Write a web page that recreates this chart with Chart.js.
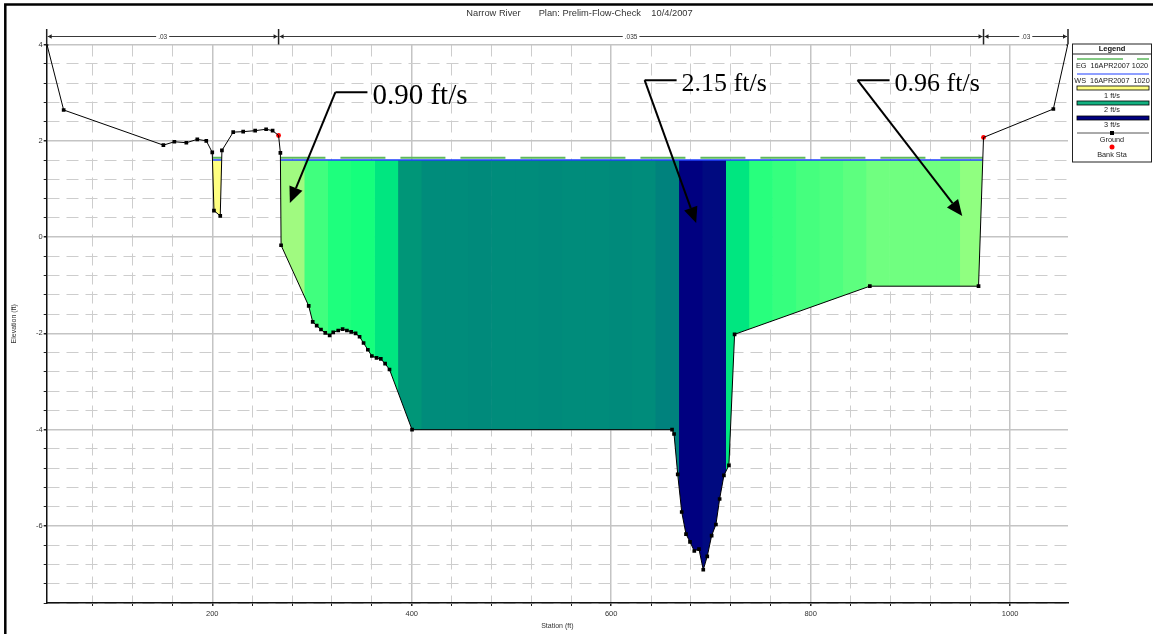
<!DOCTYPE html>
<html>
<head>
<meta charset="utf-8">
<title>Narrow River</title>
<script src="https://cdn.jsdelivr.net/npm/chart.js@4.4.1/dist/chart.umd.min.js"></script>
<style>
  html, body { margin: 0; padding: 0; background: #fff; }
</style>
</head>
<body>
<canvas id="xs" width="1153" height="634"></canvas>
<script>
// Ground profile, station (ft) / elevation (ft)
const groundStation = [34, 51, 151, 162, 174, 185, 194, 200, 201.7, 208, 209.7, 221, 231, 243, 254, 260.5, 266.5, 268.3, 269, 296.7,
  300.7, 304.7, 309, 313.3, 317.7, 321.3, 326.3, 330.7, 335, 339.3, 343.7, 347.7, 351.7, 356, 360, 364.7, 369, 373.3, 377.7, 400.3,
  661, 663, 666.7, 670.7, 675, 679, 683.3, 688, 692.3, 696.3, 700.7, 705, 708.7, 713, 718, 723.7, 859.3, 968.3, 973.3, 1043.3, 1058];
const groundElev = [4.02, 2.64, 1.91, 1.98, 1.96, 2.03, 2.00, 1.76, 0.55, 0.44, 1.80, 2.18, 2.19, 2.21, 2.24, 2.21, 2.11, 1.75, -0.17, -1.43,
  -1.76, -1.84, -1.92, -1.99, -2.04, -1.98, -1.94, -1.91, -1.94, -1.97, -2.00, -2.07, -2.20, -2.34, -2.47, -2.51, -2.53, -2.63, -2.75, -4.00,
  -4.00, -4.09, -4.93, -5.71, -6.17, -6.33, -6.52, -6.48, -6.91, -6.63, -6.20, -5.97, -5.44, -4.95, -4.74, -2.02, -1.02, -1.02, 2.07, 2.66, 4.02];

const bankStation = [266.5, 973.3];
const bankElev = [2.11, 2.07];

// Water surface / energy grade, and where the water meets the ground
const wsElev = 1.60;
const egElev = 1.65;
const pocketEdges = [200.22, 209.45];
const channelEdges = [268.35, 972.5];

// Velocity distribution: overbank pocket plus 30 channel slices
const pocketVelocity = 0.35;
const sliceEdges = [268.35, 291.9, 315.3, 338.8, 362.3, 385.8, 409.2, 432.7, 456.2, 479.6, 503.1, 526.6, 550.0, 573.5, 597.0, 620.5,
  643.9, 667.4, 690.9, 714.3, 737.8, 761.3, 784.7, 808.2, 831.7, 855.2, 878.6, 902.1, 925.6, 949.0, 972.5];
const sliceVelocity = [0.90, 1.10, 1.17, 1.19, 1.35, 1.60, 1.65, 1.65, 1.66, 1.65, 1.65, 1.66, 1.65, 1.65, 1.66, 1.65,
  1.70, 2.15, 2.10, 1.35, 1.15, 1.12, 1.09, 1.07, 1.04, 1.00, 1.00, 1.00, 1.00, 0.96];

// Manning's n along the section
const nStations = [34, 266.5, 973.3, 1058];
const nValues = ['.03', '.035', '.03'];

// Labelled axis values
const stationTicks = [200, 400, 600, 800, 1000];
const elevTicks = [-6, -4, -2, 0, 2, 4];

// Velocity callouts: slice index, elbow and arrow tip
const calloutSlice = [0, 17, 29];
const calloutElbowStation = [323.5, 633.5, 847];
const calloutElbowElev = [3.01, 3.26, 3.26];
const calloutTipStation = [277.8, 685.2, 952];
const calloutTipElev = [0.71, 0.29, 0.44];
const calloutFontPx = [29, 26, 26];

// colour ramp for the velocity slices
const rampSpeed = [0.35, 0.90, 0.96, 1.00, 1.20, 1.35, 1.60, 1.70, 2.10, 2.15];
const rampRGB = [[255, 255, 128], [160, 250, 128], [144, 255, 128], [112, 255, 128], [16, 255, 124],
  [0, 230, 128], [0, 150, 120], [0, 130, 125], [0, 10, 128], [0, 0, 128]];

function speedColor(v) {
  let i = 0;
  while (i < rampSpeed.length - 2 && v > rampSpeed[i + 1]) i++;
  const t = Math.min(1, Math.max(0, (v - rampSpeed[i]) / (rampSpeed[i + 1] - rampSpeed[i])));
  const c = rampRGB[i].map((a, k) => Math.round(a + (rampRGB[i + 1][k] - a) * t));
  return `rgb(${c.join(',')})`;
}

const SANS = "'Liberation Sans', Arial, sans-serif";
const SERIF = "'Liberation Serif', 'Times New Roman', serif";
Chart.defaults.font.family = SANS;

const pt = (x, y) => ({x, y});
const onStep = (v, step) => Math.abs(v / step - Math.round(v / step)) < 1e-6;
const inList = (v, list) => list.some(t => Math.abs(t - v) < 1e-6);

const groundData = groundStation.map((s, i) => pt(s, groundElev[i]));
const bankIdx = new Set(bankStation.map(s => groundStation.indexOf(s)));

function levelLine(elev) {
  return [pt(pocketEdges[0], elev), pt(pocketEdges[1], elev),
    pt((pocketEdges[1] + channelEdges[0]) / 2, null),
    pt(channelEdges[0], elev), pt(channelEdges[1], elev)];
}

const slices = [{from: pocketEdges[0], to: pocketEdges[1], v: pocketVelocity, last: true}];
sliceVelocity.forEach((v, i) => slices.push({from: sliceEdges[i], to: sliceEdges[i + 1], v, last: i === sliceVelocity.length - 1}));

// each slice runs a hair into its right neighbour so no white seam shows between fills
const sliceSets = slices.map(s => ({
  label: s.v.toFixed(2) + ' ft/s',
  data: [pt(s.from, wsElev), pt(s.last ? s.to : s.to + 0.8, wsElev)],
  backgroundColor: speedColor(s.v),
  borderColor: 'rgba(0,0,0,0)',
  borderWidth: 0,
  pointRadius: 0,
  fill: {target: 0}
}));

// page frame and plot title
const framePlugin = {
  id: 'frame',
  afterDraw(chart) {
    const {ctx, width, height} = chart;
    ctx.save();
    ctx.strokeStyle = '#000';
    ctx.lineWidth = 2.5;
    ctx.beginPath();
    ctx.moveTo(5.3, height); ctx.lineTo(5.3, 4.5); ctx.lineTo(width, 4.5);
    ctx.stroke();
    ctx.fillStyle = '#333';
    ctx.font = `9.3px ${SANS}`;
    ctx.textAlign = 'center';
    ctx.textBaseline = 'middle';
    ctx.fillText('Narrow River       Plan: Prelim-Flow-Check    10/4/2007', width / 2 + 3, 13.5);
    ctx.restore();
  }
};

// Manning's n bar above the plot
const nBarPlugin = {
  id: 'nBar',
  afterDraw(chart) {
    const {ctx, chartArea, scales: {x}} = chart;
    const yb = chartArea.top - 8;
    ctx.save();
    ctx.strokeStyle = '#222';
    ctx.fillStyle = '#222';
    ctx.lineWidth = 1.5;
    nStations.forEach(s => {
      const px = x.getPixelForValue(s);
      ctx.beginPath(); ctx.moveTo(px, chartArea.top - 15.5); ctx.lineTo(px, chartArea.top); ctx.stroke();
    });
    ctx.font = `6.5px ${SANS}`;
    ctx.textAlign = 'center';
    ctx.textBaseline = 'middle';
    for (let i = 0; i < nValues.length; i++) {
      const a = x.getPixelForValue(nStations[i]);
      const b = x.getPixelForValue(nStations[i + 1]);
      ctx.lineWidth = 0.9;
      ctx.beginPath(); ctx.moveTo(a + 1, yb); ctx.lineTo(b - 1, yb); ctx.stroke();
      ctx.beginPath();
      ctx.moveTo(a + 1, yb); ctx.lineTo(a + 5, yb - 2.3); ctx.lineTo(a + 5, yb + 2.3); ctx.closePath();
      ctx.moveTo(b - 1, yb); ctx.lineTo(b - 5, yb - 2.3); ctx.lineTo(b - 5, yb + 2.3); ctx.closePath();
      ctx.fill();
      const mid = (a + b) / 2;
      const tw = ctx.measureText(nValues[i]).width;
      ctx.fillStyle = '#fff';
      ctx.fillRect(mid - tw / 2 - 2, yb - 3, tw + 4, 6);
      ctx.fillStyle = '#333';
      ctx.fillText(nValues[i], mid, yb + 0.5);
      ctx.fillStyle = '#222';
    }
    ctx.restore();
  }
};

// velocity callouts with arrows
const calloutPlugin = {
  id: 'callouts',
  afterDatasetsDraw(chart) {
    const {ctx, scales: {x, y}} = chart;
    ctx.save();
    ctx.strokeStyle = '#000';
    ctx.fillStyle = '#000';
    ctx.lineWidth = 2;
    calloutSlice.forEach((si, k) => {
      const ex = x.getPixelForValue(calloutElbowStation[k]);
      const ey = y.getPixelForValue(calloutElbowElev[k]);
      const tx = x.getPixelForValue(calloutTipStation[k]);
      const ty = y.getPixelForValue(calloutTipElev[k]);
      ctx.beginPath(); ctx.moveTo(ex, ey); ctx.lineTo(ex + 32, ey); ctx.stroke();
      const dx = tx - ex, dy = ty - ey, len = Math.hypot(dx, dy);
      const ux = dx / len, uy = dy / len;
      const bx = tx - ux * 16, by = ty - uy * 16;
      ctx.beginPath(); ctx.moveTo(ex, ey); ctx.lineTo(bx, by); ctx.stroke();
      ctx.beginPath();
      ctx.moveTo(tx, ty);
      ctx.lineTo(bx - uy * 7, by + ux * 7);
      ctx.lineTo(bx + uy * 7, by - ux * 7);
      ctx.closePath(); ctx.fill();
      const fs = calloutFontPx[k];
      ctx.font = `${fs}px ${SERIF}`;
      ctx.textAlign = 'left';
      ctx.textBaseline = 'alphabetic';
      ctx.fillText(sliceVelocity[si].toFixed(2) + ' ft/s', ex + 37, ey + fs * 0.42);
    });
    ctx.restore();
  }
};

// legend panel at the right
const legendPlugin = {
  id: 'legendPanel',
  afterDraw(chart) {
    const {ctx, chartArea} = chart;
    const left = chartArea.right + 4.5, top = chartArea.top - 0.5, w = 79, h = 118;
    const cx = left + w / 2, l = left + 4.5, r = left + w - 2.5;
    ctx.save();
    ctx.fillStyle = '#fff'; ctx.fillRect(left, top, w, h);
    ctx.strokeStyle = '#222'; ctx.lineWidth = 1; ctx.strokeRect(left, top, w, h);
    ctx.beginPath(); ctx.moveTo(left, top + 10); ctx.lineTo(left + w, top + 10); ctx.stroke();

    ctx.textAlign = 'center'; ctx.textBaseline = 'middle'; ctx.fillStyle = '#111';
    ctx.font = `bold 7.5px ${SANS}`;
    ctx.fillText('Legend', cx, top + 5.3);
    ctx.font = `7.3px ${SANS}`;

    const text = (t, dy) => { ctx.fillStyle = '#222'; ctx.fillText(t, cx, top + dy); };
    const line = (dy, color, width, dash) => {
      ctx.save(); ctx.strokeStyle = color; ctx.lineWidth = width; ctx.setLineDash(dash);
      ctx.beginPath(); ctx.moveTo(l, top + dy); ctx.lineTo(r, top + dy); ctx.stroke(); ctx.restore();
    };
    const swatch = (dy, color) => {
      ctx.fillStyle = color; ctx.fillRect(l, top + dy, r - l, 4);
      ctx.strokeStyle = '#000'; ctx.lineWidth = 0.8; ctx.strokeRect(l, top + dy, r - l, 4);
    };

    line(15, '#5cb85c', 1.6, [46, 14]);
    text('EG  16APR2007 1020', 22);
    line(30, '#2040ff', 1.2, []);
    text('WS  16APR2007  1020', 37);
    swatch(42, '#ffff80');
    text('1 ft/s', 51.7);
    swatch(57, '#12b080');
    text('2 ft/s', 66);
    swatch(72, '#000080');
    text('3 ft/s', 81);
    line(89, '#555', 1, []);
    ctx.fillStyle = '#000'; ctx.fillRect(cx - 2, top + 87, 4, 4);
    text('Ground', 96);
    ctx.fillStyle = '#f00'; ctx.beginPath(); ctx.arc(cx, top + 103, 2.5, 0, Math.PI * 2); ctx.fill();
    text('Bank Sta', 111);
    ctx.restore();
  }
};

const majorX = v => inList(v, stationTicks);
const majorY = v => inList(v, elevTicks);

new Chart(document.getElementById('xs'), {
  type: 'line',
  data: {
    datasets: [
      {
        label: 'Ground',
        data: groundData,
        borderColor: '#000',
        borderWidth: 1,
        pointStyle: 'rect',
        pointRadius: ctx => (ctx.type === 'data' && bankIdx.has(ctx.dataIndex)) ? 0 : 2.6,
        pointBackgroundColor: '#000',
        pointBorderWidth: 0,
        fill: false
      },
      {
        label: 'Bank Sta',
        data: bankStation.map((s, i) => pt(s, bankElev[i])),
        showLine: false,
        pointStyle: 'circle',
        pointRadius: 2.4,
        pointBackgroundColor: '#ff0000',
        pointBorderWidth: 0,
        fill: false
      },
      {
        label: 'WS 16APR2007 1020',
        data: levelLine(wsElev),
        borderColor: '#2040ff',
        borderWidth: 1.5,
        pointRadius: 0,
        fill: false
      },
      {
        label: 'EG 16APR2007 1020',
        data: levelLine(egElev),
        borderColor: '#5cb85c',
        borderWidth: 2,
        borderDash: [45, 15],
        pointRadius: 0,
        fill: false
      },
      ...sliceSets
    ]
  },
  options: {
    responsive: false,
    animation: false,
    events: [],
    layout: { padding: { top: 44.5, right: 85, left: 0, bottom: 0 } },
    plugins: {
      legend: { display: false },
      tooltip: { enabled: false },
      title: { display: false }
    },
    scales: {
      x: {
        type: 'linear',
        min: 34,
        max: 1058,
        ticks: {
          stepSize: 40,
          autoSkip: false,
          maxRotation: 0,
          padding: 3,
          color: '#333',
          font: { size: 7.5 },
          callback: v => majorX(v) ? String(Math.round(v)) : ''
        },
        grid: {
          color: ctx => majorX(ctx.tick.value) ? '#c4c4c4' : (onStep(ctx.tick.value, 40) ? '#cdcdcd' : 'rgba(0,0,0,0)'),
          lineWidth: ctx => majorX(ctx.tick.value) ? 1.5 : 1,
          tickColor: ctx => onStep(ctx.tick.value, 40) ? '#222' : 'rgba(0,0,0,0)',
          tickLength: 3
        },
        border: {
          display: true,
          color: '#111',
          width: 1.5,
          dash: ctx => (ctx.tick && !majorX(ctx.tick.value)) ? [12, 7] : []
        },
        title: {
          display: true,
          text: 'Station (ft)',
          color: '#333',
          font: { size: 7 },
          padding: { top: 0, bottom: 3.8 }
        },
        afterFit: s => { s.height = 31; }
      },
      y: {
        type: 'linear',
        min: -7.6,
        max: 4.0,
        ticks: {
          stepSize: 0.4,
          autoSkip: false,
          padding: 1,
          color: '#333',
          font: { size: 7.5 },
          callback: v => {
            const t = elevTicks.find(e => Math.abs(e - v) < 1e-6);
            return t === undefined ? '' : String(t);
          }
        },
        grid: {
          color: ctx => majorY(ctx.tick.value) ? '#c4c4c4' : '#cdcdcd',
          lineWidth: ctx => majorY(ctx.tick.value) ? 1.5 : 1,
          tickColor: '#222',
          tickLength: 3
        },
        border: {
          display: true,
          color: '#111',
          width: 1.5,
          dash: ctx => (ctx.tick && !majorY(ctx.tick.value)) ? [12, 7] : []
        },
        title: {
          display: true,
          text: 'Elevation (ft)',
          color: '#333',
          font: { size: 7 },
          padding: { top: 9.8, bottom: 0 }
        },
        afterFit: s => { s.width = 46.7; }
      }
    }
  },
  plugins: [framePlugin, nBarPlugin, calloutPlugin, legendPlugin]
});
</script>
</body>
</html>
